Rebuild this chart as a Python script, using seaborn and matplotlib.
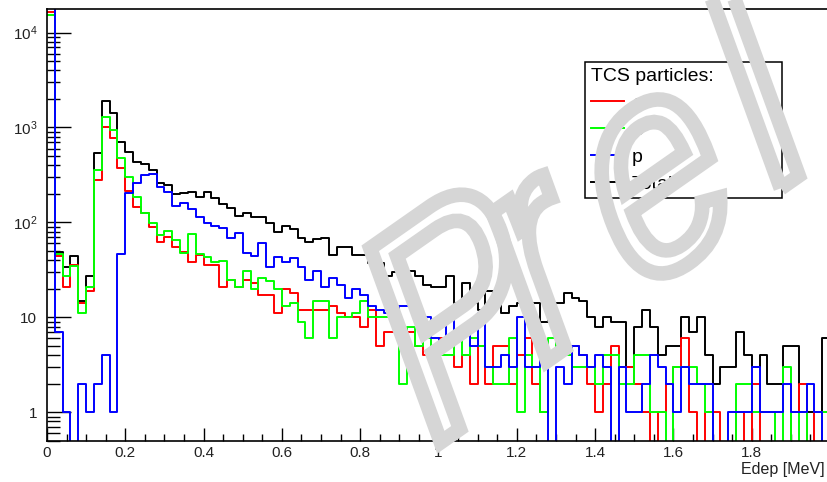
import numpy as np
import pandas as pd
import matplotlib
matplotlib.use("Agg")
import matplotlib.pyplot as plt
import seaborn as sns
from matplotlib.ticker import MultipleLocator, LogLocator, FuncFormatter, NullFormatter
from matplotlib.textpath import TextPath
from matplotlib.font_manager import FontProperties
from matplotlib.patches import PathPatch
from matplotlib.transforms import Affine2D, IdentityTransform
from matplotlib.lines import Line2D

# 100 bins of 20 keV between 0 and 2 MeV
n_bins = 100
e_range = (0.0, 2.0)

total = [30000, 49, 34, 44, 15, 27, 535, 1900, 1420, 710,
         557, 437, 410, 357, 257, 248, 199, 203, 211, 187,
         211, 180, 156, 141, 118, 125, 115, 115, 98, 80,
         92, 85, 68, 62, 67, 69, 45, 55, 55, 45,
         45, 37, 37, 27, 30, 33, 31, 27, 22, 21,
         21, 27, 14, 23, 14, 12, 19, 15, 11, 13,
         14, 14, 14, 9, 14, 14, 18, 16, 15, 10,
         8, 10, 9, 9, 3, 8, 12, 8, 4, 5,
         5, 10, 7, 10, 4, 2, 3, 3, 7, 4,
         3, 4, 2, 2, 5, 5, 1, 1, 1, 6]

electrons = [16400, 44, 21, 36, 14, 19, 280, 1020, 770, 372,
             216, 147, 126, 90, 62, 71, 55, 49, 38, 45,
             36, 36, 21, 25, 21, 25, 23, 17, 17, 11,
             20, 18, 12, 12, 12, 12, 13, 11, 10, 10,
             8, 12, 5, 7, 7, 7, 7, 5, 4, 4,
             6, 6, 3, 4, 2, 5, 2, 5, 5, 2,
             4, 6, 2, 1, 4, 4, 5, 5, 4, 2,
             1, 2, 5, 3, 3, 2, 1, 0, 1, 2,
             3, 6, 1, 0, 1, 1, 0, 0, 1, 0,
             2, 0, 0, 0, 0, 1, 2, 0, 1, 0]

positrons = [15400, 46, 27, 35, 11, 21, 357, 1300, 943, 474,
             303, 187, 125, 98, 73, 82, 65, 48, 75, 46,
             43, 38, 39, 25, 21, 31, 20, 26, 24, 20,
             13, 14, 9, 6, 15, 15, 6, 10, 10, 11,
             15, 10, 10, 10, 10, 2, 8, 5, 6, 4,
             4, 4, 7, 4, 6, 5, 3, 2, 2, 6,
             1, 4, 3, 1, 6, 4, 4, 3, 3, 3,
             2, 4, 4, 2, 2, 4, 4, 1, 1, 0,
             3, 3, 3, 2, 1, 0, 0, 0, 2, 2,
             1, 1, 1, 0, 3, 0, 1, 0, 0, 1]

protons = [20000, 7, 1, 0, 2, 1, 2, 4, 1, 47,
           204, 260, 313, 325, 235, 210, 150, 159, 137, 113,
           98, 92, 87, 68, 77, 48, 44, 60, 34, 43,
           38, 42, 34, 25, 31, 21, 26, 22, 16, 20,
           17, 13, 12, 11, 11, 13, 13, 10, 10, 6,
           5, 11, 7, 8, 5, 11, 3, 3, 4, 3,
           10, 3, 3, 4, 0, 3, 2, 5, 4, 3,
           4, 3, 0, 3, 1, 1, 2, 4, 3, 2,
           1, 3, 2, 2, 2, 0, 0, 1, 1, 1,
           3, 1, 1, 1, 2, 1, 1, 2, 1, 0]

series_labels = ["e\u207b", "e\u207a", "p", "Total"]
series_colors = ["#ff0000", "#00ff00", "#0000ff", "#000000"]

plt.rcParams["font.family"] = ["Liberation Sans", "DejaVu Sans"]

bin_width = (e_range[1] - e_range[0]) / n_bins
centers = e_range[0] + bin_width * (np.arange(n_bins) + 0.5)
frames = []
for name, vals in zip(series_labels, [electrons, positrons, protons, total]):
    frames.append(pd.DataFrame({"Edep": centers, "counts": vals, "particle": name}))
df = pd.concat(frames, ignore_index=True)

W, H = 827, 482
fig = plt.figure(figsize=(W / 100, H / 100), dpi=100)
fig.patch.set_facecolor("white")
x0, x1, y_top, y_bot = 47, 830, 9, 441
ax = fig.add_axes([x0 / W, 1 - y_bot / H, (x1 - x0) / W, (y_bot - y_top) / H])
ax.set_yscale("log")

# total first, then the particle species on top
for name, color in [("Total", "#000000"), ("e\u207b", "#ff0000"),
                    ("e\u207a", "#00ff00"), ("p", "#0000ff")]:
    sub = df[df["particle"] == name]
    sns.histplot(data=sub, x="Edep", weights="counts", bins=n_bins,
                 binrange=e_range, element="step", fill=False, color=color,
                 linewidth=1.4, ax=ax)

ax.set_xlim(0, 2)
ax.set_ylim(10 ** -0.303, 10 ** 4.248)
ax.set_ylabel("")

for sp in ax.spines.values():
    sp.set_linewidth(1.2)
    sp.set_color("black")

ax.xaxis.set_major_locator(MultipleLocator(0.2))
ax.xaxis.set_minor_locator(MultipleLocator(0.05))
ax.xaxis.set_major_formatter(FuncFormatter(lambda v, p: f"{v:g}"))
ax.yaxis.set_major_locator(LogLocator(base=10, numticks=20))
ax.yaxis.set_minor_locator(LogLocator(base=10, subs=np.arange(2, 10), numticks=60))
ax.yaxis.set_minor_formatter(NullFormatter())


def log_label(v, pos):
    e = int(round(np.log10(v)))
    if e == 0:
        return "1"
    if e == 1:
        return "10"
    return r"$\mathregular{10^{%d}}$" % e


ax.yaxis.set_major_formatter(FuncFormatter(log_label))
ax.tick_params(axis="x", which="major", direction="in", length=9.4, width=1.0,
               top=False, labelsize=11, pad=3.5, labelcolor="#222222")
ax.tick_params(axis="x", which="minor", direction="in", length=5, width=1.0, top=False)
ax.tick_params(axis="y", which="major", direction="in", length=17, width=1.0,
               right=False, labelsize=11, pad=7, labelcolor="#222222")
ax.tick_params(axis="y", which="minor", direction="in", length=9, width=1.0, right=False)

ax.set_xlabel("Edep [MeV]", loc="right", fontsize=11.5, color="#222222")
ax.xaxis.set_label_coords((825 - x0) / (x1 - x0), -0.048)

handles = [Line2D([], [], color=c, lw=1.4) for c in series_colors]
leg = ax.legend(handles, series_labels, title="TCS particles:",
                loc="upper left",
                bbox_to_anchor=(585 / W, 1 - 199 / H, (782 - 585) / W, (199 - 62) / H),
                bbox_transform=fig.transFigure, mode="expand", alignment="left",
                frameon=True, fancybox=False, framealpha=1, edgecolor="black",
                fontsize=14, title_fontsize=14, borderpad=0.3,
                handlelength=1.7, handletextpad=0.4, labelspacing=0.48,
                borderaxespad=0)
leg.get_frame().set_linewidth(1.1)

# "Prel" watermark: sheared, outlined glyphs in light grey laid over everything
wm_gray = "#d6d6d6"
fp = FontProperties(family="Liberation Sans")
gx = 250 * np.array([np.cos(np.radians(35)), np.sin(np.radians(35))])
gy = 300 * np.array([np.cos(np.radians(110)), np.sin(np.radians(110))])
glyph_origins = [("P", 424, 454), ("r", 533, 371), ("e", 630, 301), ("l", 767, 198)]
for ch, ox, oy in glyph_origins:
    tp = TextPath((0, 0), ch, size=1, prop=fp)
    tr = Affine2D(np.array([[gx[0], gy[0], ox], [gx[1], gy[1], H - oy], [0, 0, 1]]))
    patch = PathPatch(tr.transform_path(tp), facecolor="none", edgecolor=wm_gray,
                      lw=10.5, transform=IdentityTransform(), zorder=20)
    fig.add_artist(patch)

fig.savefig("out.png", dpi=100)
